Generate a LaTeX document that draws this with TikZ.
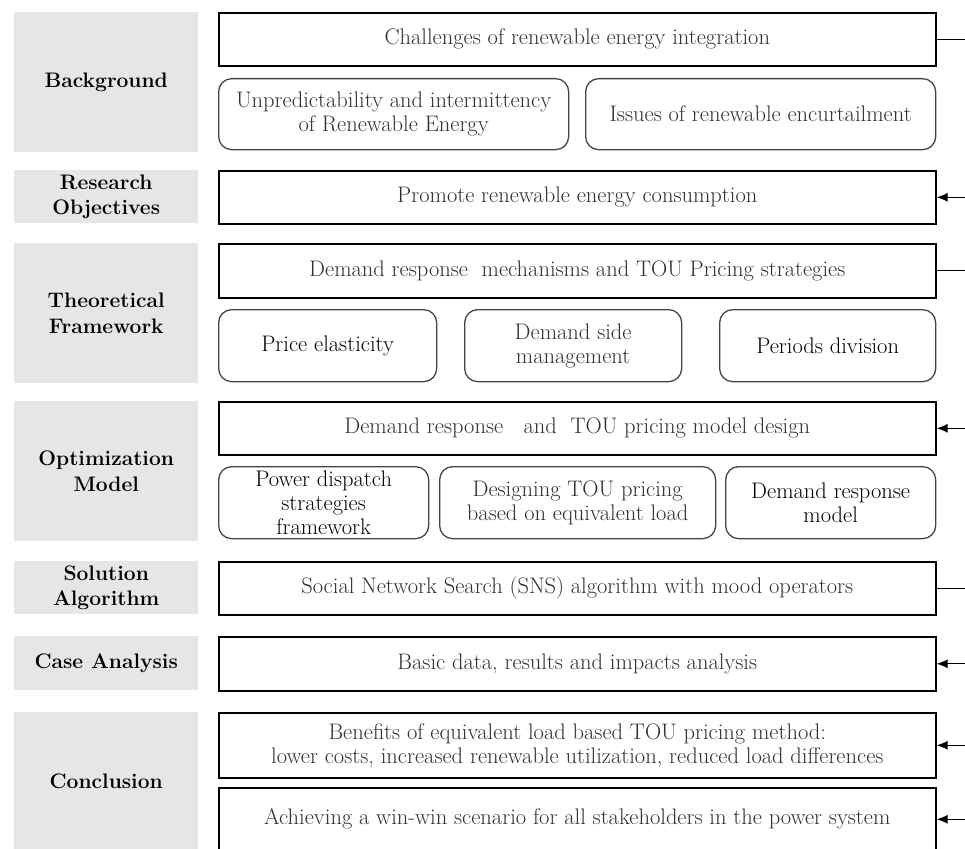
\documentclass[tikz,border=0pt]{standalone}
\usetikzlibrary{arrows.meta}
\definecolor{lblgray}{HTML}{E6E6E6}
\definecolor{txtgray}{HTML}{303030}
\definecolor{edgegray}{HTML}{444444}
\begin{document}
\begin{tikzpicture}[x=1pt,y=-1pt,
 lbl/.style={fill=lblgray, draw=none, anchor=north west, inner sep=0pt, align=center, minimum width=184pt, font=\fontsize{21}{25.5}\selectfont\bfseries},
 box/.style={draw=black, line width=1.6pt, anchor=north west, inner sep=0pt, align=center, text=txtgray, font=\fontsize{22.5}{24}\selectfont},
 rbox/.style={draw=edgegray, line width=1.3pt, rounded corners=13pt, anchor=north west, inner sep=0pt, align=center, font=\fontsize{22.5}{24}\selectfont},
 link/.style={line width=1.2pt},
 into/.style={line width=1.2pt, -{Latex[length=11pt,width=9pt]}}]
\useasboundingbox (0,0) rectangle (965,848);
\coordinate (R) at (965,0);
% labels
\node[lbl, minimum height=140pt] (lbg) at (14,12) {Background};
\node[lbl, minimum height=53pt] (lro) at (14,170) {Research\\Objectives};
\node[lbl, minimum height=140pt] (ltf) at (14,243) {Theoretical\\Framework};
\node[lbl, minimum height=140pt] (lom) at (14,401) {Optimization\\Model};
\node[lbl, minimum height=53pt] (lsa) at (14,561) {Solution\\Algorithm};
\node[lbl, minimum height=54pt] (lca) at (14,636) {Case Analysis};
\node[lbl, minimum height=138pt] (lco) at (14,712) {Conclusion};
% background
\node[box, minimum width=717pt, minimum height=53pt] (b1) at (218,12) {Challenges of renewable energy integration};
\node[rbox, text=txtgray, minimum width=350pt, minimum height=71pt] (r11) at (218,78) {Unpredictability and intermittency\\of Renewable Energy};
\node[rbox, text=txtgray, minimum width=350pt, minimum height=71pt] (r12) at (585,78) {Issues of renewable encurtailment};
% objectives
\node[box, minimum width=717pt, minimum height=53pt] (b2) at (218,170) {Promote renewable energy consumption};
% theory
\node[box, minimum width=717pt, minimum height=54pt] (b3) at (218,243) {Demand response\ \ mechanisms and TOU Pricing strategies};
\node[rbox, minimum width=218pt, minimum height=72pt] (r31) at (218,309) {Price elasticity};
\node[rbox, text=txtgray, minimum width=217pt, minimum height=72pt] (r32) at (464,309) {Demand side\\management};
\node[rbox, minimum width=216pt, minimum height=72pt] (r33) at (719,309) {Periods division};
% optimization
\node[box, minimum width=717pt, minimum height=53pt] (b4) at (218,401) {Demand response\ \ \ and\ \ TOU pricing model design};
\node[rbox, minimum width=210pt, minimum height=72pt] (r41) at (218,466) {Power dispatch\\strategies\\framework};
\node[rbox, text=txtgray, minimum width=276pt, minimum height=72pt] (r42) at (439,466) {Designing TOU pricing\\based on equivalent load};
\node[rbox, minimum width=210pt, minimum height=72pt] (r43) at (725,466) {Demand response\\model};
% solution
\node[box, minimum width=717pt, minimum height=53pt] (b5) at (218,561) {Social Network Search (SNS) algorithm with mood operators};
% case
\node[box, minimum width=717pt, minimum height=54pt] (b6) at (218,636) {Basic data, results and impacts analysis};
% conclusion
\node[box, minimum width=717pt, minimum height=65pt] (b7) at (218,712) {Benefits of equivalent load based TOU pricing method:\\lower costs, increased renewable utilization, reduced load differences};
\node[box, minimum width=717pt, minimum height=63pt] (b8) at (218,787) {Achieving a win-win scenario for all stakeholders in the power system};
% connectors
\draw[link] (b1.east) -- (b1.east -| R);
\draw[into] (b2.east -| R) -- (b2.east);
\draw[link] (b3.east) -- (b3.east -| R);
\draw[into] (b4.east -| R) -- (b4.east);
\draw[link] (b5.east) -- (b5.east -| R);
\draw[into] (b6.east -| R) -- (b6.east);
\draw[into] (b7.east -| R) -- (b7.east);
\draw[into] (b8.east -| R) -- (b8.east);
\end{tikzpicture}
\end{document}
